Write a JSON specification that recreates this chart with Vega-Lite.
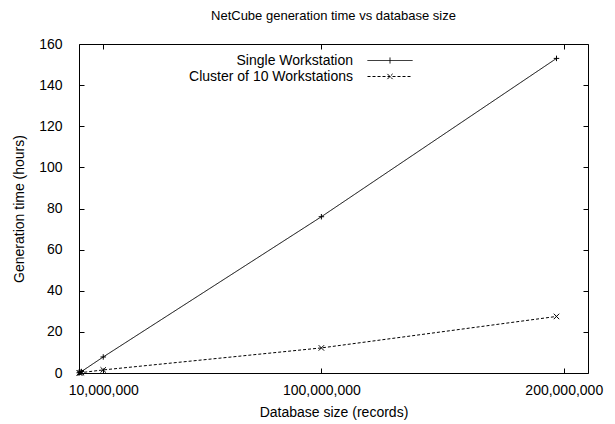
{
  "$schema": "https://vega.github.io/schema/vega-lite/v6.json",
  "width": 509,
  "height": 329,
  "autosize": {"type": "none"},
  "padding": {"left": 79, "top": 44, "right": 27, "bottom": 51},
  "background": "white",
  "config": {
    "font": "Liberation Sans",
    "view": {"stroke": "black", "strokeWidth": 1},
    "axis": {"domain": false, "grid": false, "tickColor": "black", "tickSize": -5, "labelColor": "black", "titleColor": "black", "labelFontSize": 14, "titleFontSize": 14, "titleFontWeight": "normal", "labelFont": "Liberation Sans", "titleFont": "Liberation Sans"}
  },
  "title": {"text": "NetCube generation time vs database size", "fontSize": 13, "fontWeight": "normal", "font": "Liberation Sans", "color": "black", "offset": 14, "anchor": "middle"},
  "data": {"values": [
    {"records": 100000, "hours": 0.1, "series": "Single Workstation"},
    {"records": 500000, "hours": 0.35, "series": "Single Workstation"},
    {"records": 1000000, "hours": 0.7, "series": "Single Workstation"},
    {"records": 10000000, "hours": 7.8, "series": "Single Workstation"},
    {"records": 100000000, "hours": 76, "series": "Single Workstation"},
    {"records": 197000000, "hours": 153, "series": "Single Workstation"},
    {"records": 100000, "hours": 0.05, "series": "Cluster of 10 Workstations"},
    {"records": 500000, "hours": 0.1, "series": "Cluster of 10 Workstations"},
    {"records": 1000000, "hours": 0.2, "series": "Cluster of 10 Workstations"},
    {"records": 10000000, "hours": 1.5, "series": "Cluster of 10 Workstations"},
    {"records": 100000000, "hours": 12.2, "series": "Cluster of 10 Workstations"},
    {"records": 197000000, "hours": 27.5, "series": "Cluster of 10 Workstations"}
  ]},
  "layer": [
    {
      "mark": {"type": "line", "color": "black", "strokeWidth": 1},
      "encoding": {
        "x": {"field": "records", "type": "quantitative", "scale": {"domain": [0, 210000000], "nice": false, "zero": true},
              "axis": {"values": [10000000, 100000000, 200000000], "format": ",d", "labelPadding": 15, "title": "Database size (records)", "titlePadding": 8, "labelFlush": false}},
        "y": {"field": "hours", "type": "quantitative", "scale": {"domain": [0, 160], "nice": false},
              "axis": {"values": [0, 20, 40, 60, 80, 100, 120, 140, 160], "labelPadding": 22, "title": "Generation time (hours)", "titlePadding": 12}},
        "strokeDash": {"field": "series", "type": "nominal",
          "scale": {"domain": ["Single Workstation", "Cluster of 10 Workstations"], "range": [[1, 0], [3, 2]]},
          "legend": {"orient": "none", "legendX": 303, "legendY": 8.5, "title": null, "direction": "vertical",
            "symbolType": "M-3,0H3", "symbolSize": 225, "symbolStrokeWidth": 1, "symbolStrokeColor": "black", "symbolFillColor": "transparent",
            "labelAlign": "right", "labelOffset": -45, "labelFontSize": 14, "labelColor": "black", "labelFont": "Liberation Sans", "rowPadding": 1, "labelLimit": 400,
            "encode": {"symbols": {"update": {"shape": {"signal": "datum.label === 'Single Workstation' ? 'M-3,0H3M0,-0.4V0.4' : 'M-3,0H3M-0.35,-0.35L0.35,0.35M-0.35,0.35L0.35,-0.35'"}}}}}
        }
      }
    },
    {
      "mark": {"type": "point", "filled": false, "color": "black", "strokeWidth": 1, "opacity": 1},
      "encoding": {
        "x": {"field": "records", "type": "quantitative", "axis": null},
        "y": {"field": "hours", "type": "quantitative", "axis": null},
        "shape": {"condition": {"test": "datum.series === 'Single Workstation'", "value": "M-1,0H1M0,-1V1"}, "value": "M-1,-1L1,1M-1,1L1,-1"},
        "size": {"value": 30}
      }
    },
    {
      "mark": {"type": "point", "opacity": 0},
      "encoding": {
        "x": {"field": "records", "type": "quantitative", "axis": {"orient": "top", "values": [10000000, 100000000, 200000000], "labels": false, "title": null}},
        "y": {"field": "hours", "type": "quantitative", "axis": {"orient": "right", "values": [0, 20, 40, 60, 80, 100, 120, 140, 160], "labels": false, "title": null}}
      }
    }
  ],
  "resolve": {"axis": {"x": "independent", "y": "independent"}}
}
